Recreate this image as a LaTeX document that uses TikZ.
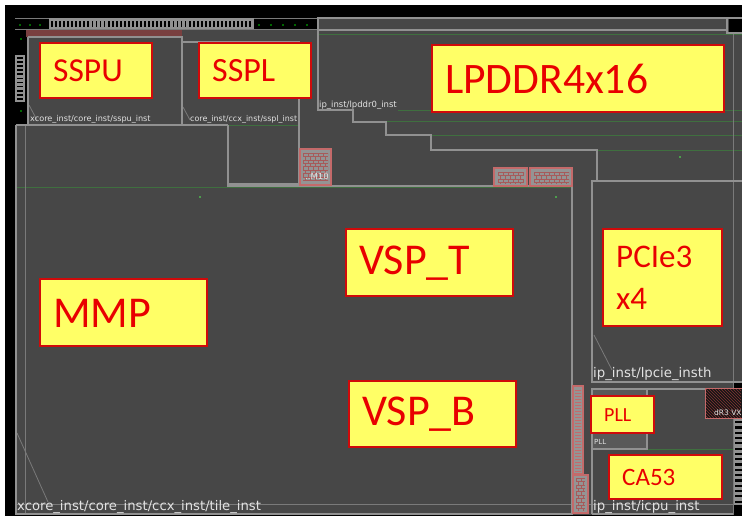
\documentclass[tikz,border=0pt]{standalone}
\usepackage{fontspec}
\setmainfont{Carlito}
\newfontfamily\labfont{DejaVu Sans}
\usetikzlibrary{patterns}
\definecolor{bgc}{HTML}{474747}
\definecolor{linec}{HTML}{919191}
\definecolor{thinc}{HTML}{7A7A7A}
\definecolor{greenc}{HTML}{3F6F3F}
\definecolor{yel}{HTML}{FFFF66}
\definecolor{redb}{HTML}{D00A0A}
\definecolor{redt}{HTML}{E80000}
\definecolor{labc}{HTML}{E2E2E2}
\definecolor{brickc}{HTML}{C46A6A}
\definecolor{dotc}{HTML}{595959}
\tikzset{
  x=1pt,y=-1pt,
  outl/.style={draw=linec,line width=2pt},
  thinl/.style={draw=thinc,line width=0.8pt},
  grn/.style={draw=greenc,line width=0.7pt},
  yellowbox/.style={draw=redb,line width=2.2pt,fill=yel,inner sep=0pt,anchor=north west},
  caption/.style={text=redt,inner sep=0pt,anchor=west},
  lab/.style={text=labc,inner sep=0pt,anchor=west,font=\labfont},
  brickbox/.style={draw=brickc,line width=1.2pt,fill=black!42},
  brickline/.style={draw=brickc!85!black,line width=0.5pt},
}
\newcommand{\ybox}[7]{%
  \node[yellowbox,minimum width=#3-#1,minimum height=#4-#2] (#5) at (#1,#2) {};
  \node[caption,font=\fontsize{#7}{#7}\selectfont,align=left] (#5t) at (#1+14,#2*0.5+#4*0.5+1.5) {#6};
}
% a small brick texture: x1,y1,x2,y2
\newcommand{\bricktex}[4]{%
  \begin{scope}
  \clip (#1,#2) rectangle (#3,#4);
  \foreach \r in {0,...,12}{
    \draw[brickline] (#1,#2+\r*3.4) -- (#3,#2+\r*3.4);
    \pgfmathsetmacro{\off}{mod(\r,2)*2.5}
    \foreach \c in {0,...,9}{
      \draw[brickline] (#1+\off+\c*5,#2+\r*3.4) -- +(0,3.4);
    }
  }
  \end{scope}
}
\begin{document}
\begin{tikzpicture}
\useasboundingbox (0,0) rectangle (742,520);
\fill[white] (0,0) rectangle (742,520);
\fill[black] (5,5) rectangle (742,516);
\fill[bgc] (16,18) rectangle (742,515);
% top and left black bands
\fill[black] (15,18) rectangle (318,30);
\fill[black] (15,30) rectangle (27,125);
\fill[black] (729,18) rectangle (742,33);
\fill[black] (733,382) rectangle (742,390);
\fill[black] (733,505) rectangle (742,516);
\fill[red!30!black!75] (26,30) rectangle (182,37);
\draw[thinl] (15,18) -- (318,18);
\draw[thinl] (15,29.5) -- (318,29.5);
\foreach \i in {0,...,2}{ \fill[green!40!black] (19+\i*10,24) rectangle +(1.5,1.5);}
\foreach \i in {0,...,4}{ \fill[green!40!black] (258+\i*12,24) rectangle +(1.5,1.5);}
\foreach \i in {0,...,4}{ \fill[green!40!black] (20,38+\i*18) rectangle +(1.5,1.5);}
% pad chains
\fill[linec] (49,18) rectangle (254,29);
\foreach \i in {0,...,49}{ \fill[black] (51+\i*4.05,20.5) rectangle +(1.8,6);}
\fill[linec] (15,55) rectangle (25,102);
\foreach \i in {0,...,10}{ \fill[black] (17,57+\i*4.1) rectangle +(6,1.7);}
\fill[linec] (733,418) rectangle (742,505);
\foreach \i in {0,...,15}{ \fill[black] (735,421+\i*5.3) rectangle +(7,2.2);}
% green tracks
\draw[grn] (318,34) -- (742,34);
\draw[grn] (398,110) -- (742,110);
\draw[grn] (353,121) -- (742,121);
\draw[grn] (386,135) -- (742,135);
\draw[grn] (430,150) -- (742,150);
\draw[grn] (16,187) -- (572,187);
\draw[grn] (228,125) -- (299,125);
\draw[grn] (592,449) -- (733,449);
\fill[green!45!black!70] (679,156) rectangle +(2,2);
\fill[green!45!black!70] (555,196) rectangle +(2,2);
\fill[green!45!black!70] (199,196) rectangle +(2,2);
% thin lines
\draw[thinl] (733,33) -- (733,515);
\draw[thinl] (25,125) -- (25,514);
\draw[thinl] (16,504) -- (733,504);
\draw[thinl] (17,433) -- (48,502);
\draw[thinl] (29,105) -- (37,120);
\draw[thinl] (183,107) -- (190,120);
\draw[thinl] (594,335) -- (612,370);
% hard-macro outlines
\draw[outl] (28,37) -- (182,37) -- (182,125);
\draw[outl] (28,37) -- (28,125);
\draw[outl] (182,42) -- (299,42) -- (299,184) -- (228,184);
\draw[outl] (16,125) -- (228,125);
\draw[outl] (16,125) -- (16,514) -- (572,514) -- (572,186) -- (228,186) -- (228,125);
\draw[outl] (742,18) -- (318,18) -- (318,110) -- (353,110) -- (353,122) -- (386,122) -- (386,135) -- (431,135) -- (431,150) -- (597,150) -- (597,181);
\draw[outl] (318,29.5) -- (727,29.5) -- (727,33) -- (742,33);
\draw[outl] (727,18) -- (727,30);
\draw[outl] (742,181) -- (592,181) -- (592,382) -- (742,382);
\draw[outl] (592,514) -- (592,389) -- (730,389);
\draw[outl] (592,514) -- (733,514);
\fill[dotc] (593,390) rectangle (646,448);
\draw[outl] (593,389) -- (647,389) -- (647,449) -- (593,449);
% brick cells
\draw[brickbox] (300,149) rectangle (331,185);
\bricktex{303}{153}{328}{180}
\draw[brickbox] (494,168) rectangle (527,186);
\bricktex{498}{172}{524}{183}
\draw[brickbox] (530,168) rectangle (572,186);
\bricktex{534}{172}{569}{183}
\draw[brickbox] (573,386) rectangle (583,474);
\fill[pattern=horizontal lines,pattern color=brickc] (575,388) rectangle (581,472);
\draw[brickbox] (573,475) rectangle (588,513);
\bricktex{576}{478}{585}{510}
% hatched cell
\draw[draw=brickc,fill=black!70!bgc,line width=0.8pt] (705,388) rectangle (742,418);
\fill[pattern=north west lines,pattern color=red!40!black!80] (706,389) rectangle (741,417);
% labels in the layout
\node[lab,font=\labfont\fontsize{8.1}{9}\selectfont] (l1) at (30,119.5) {xcore\_inst/core\_inst/sspu\_inst};
\node[lab,font=\labfont\fontsize{7.95}{9}\selectfont] (l2) at (190,119) {core\_inst/ccx\_inst/sspl\_inst};
\node[lab,font=\labfont\fontsize{8.5}{9}\selectfont] (l3) at (319,105) {ip\_inst/lpddr0\_inst};
\node[lab,font=\labfont\fontsize{8.5}{9}\selectfont] (l4) at (305,176.5) {..M10};
\node[lab,font=\labfont\fontsize{13.3}{14}\selectfont] (l5) at (593,374) {ip\_inst/lpcie\_insth};
\node[lab,font=\labfont\fontsize{7}{8}\selectfont] (l6) at (594,442) {PLL};
\node[lab,font=\labfont\fontsize{13.3}{14}\selectfont] (l7) at (593,507) {ip\_inst/icpu\_inst};
\node[lab,font=\labfont\fontsize{13.2}{14}\selectfont] (l8) at (17,507) {xcore\_inst/core\_inst/ccx\_inst/tile\_inst};
\node[lab,font=\labfont\fontsize{7.5}{8}\selectfont] (l9) at (714,413) {dR3 VX};
% yellow call-outs
\ybox{39}{42}{151}{97}{sspu}{SSPU}{33.5}
\ybox{198}{42}{310}{97}{sspl}{SSPL}{34}
\ybox{431}{44}{723}{111}{lpddr}{LPDDR4x16}{43.5}
\ybox{345}{228}{512}{295}{vspt}{VSP\_T}{44}
\ybox{39}{278}{206}{345}{mmp}{MMP}{44}
\ybox{348}{380}{515}{446}{vspb}{VSP\_B}{44}
\ybox{602}{228}{721}{325}{pcie}{PCIe3\\[9pt]x4}{33}
\ybox{590}{395}{653}{432}{pll}{PLL}{20}
\ybox{608}{454}{721}{498}{ca}{CA53}{25}
\end{tikzpicture}
\end{document}
